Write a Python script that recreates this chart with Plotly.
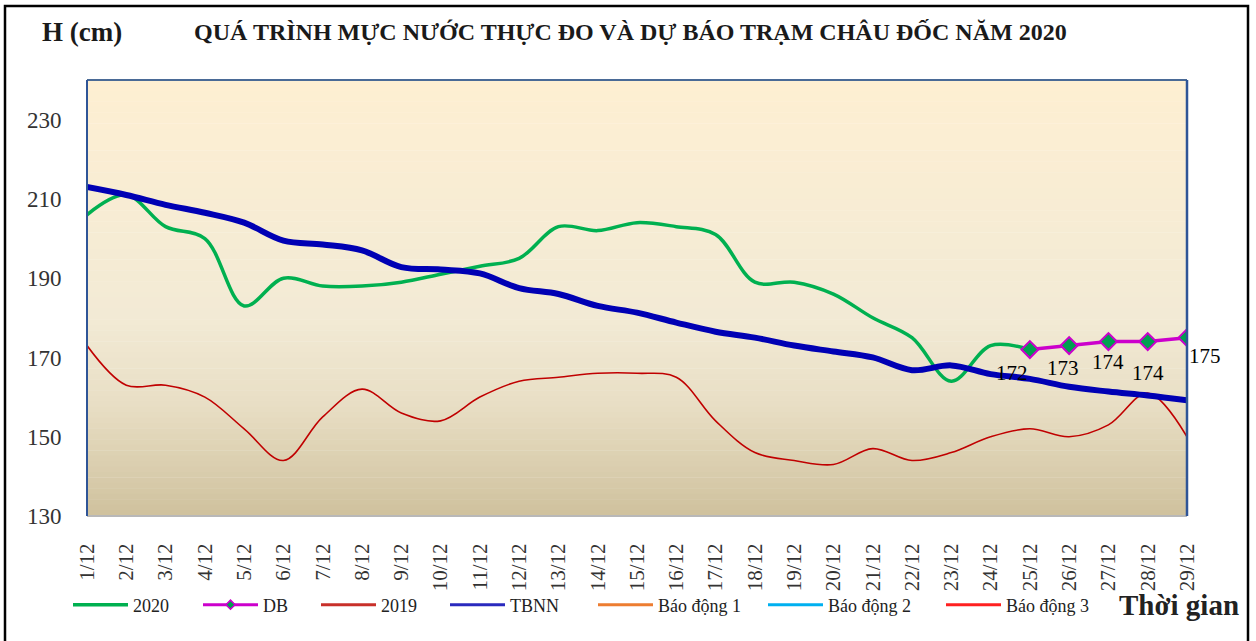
import plotly.graph_objects as go

# ---------------- data ----------------
days = [f"{d}/12" for d in range(1, 30)]

h2020 = [206, 211, 203, 200, 183, 190, 188, 188, 189, 191, 193, 195, 203, 202, 204,
         203, 201, 189, 189, 186, 180, 175, 164, 173, 172,
         None, None, None, None]
db = [None] * 24 + [172, 173, 174, 174, 175]
h2019 = [173, 163, 163, 160, 152, 144, 155, 162, 156, 154, 160, 164, 165, 166, 166,
         165, 154, 146, 144, 143, 147, 144, 146, 150, 152, 150, 153, 161, 150]
tbnn = [213, 211, 208.5, 206.5, 204, 199.5, 198.5, 197, 192.8, 192.2, 191.2, 187.5,
        186, 183, 181.3, 178.8, 176.5, 175, 173, 171.5, 170, 166.8, 168, 165.8,
        164.6, 162.6, 161.4, 160.4, 159.2]
bd1 = [350] * 29
bd2 = [400] * 29
bd3 = [450] * 29

y_ticks = [130, 150, 170, 190, 210, 230]

# ---------------- figure ----------------
W, H = 1256, 641
L, R, T, B = 87, 69, 80, 125
PW, PH = W - L - R, H - T - B

def px(xp):
    return (xp - L) / PW

def py(yp):
    return (H - B - yp) / PH

serif = "Liberation Serif"
fig = go.Figure()

line_shape = dict(shape="spline", smoothing=1)
empty = [None] * len(days)

# series (2019, TBNN, DB use a thinner proxy entry in the legend, as in the original)
fig.add_trace(go.Scatter(x=days, y=h2020, name="2020", mode="lines",
                         line=dict(color="#00B050", width=3.5, **line_shape),
                         legend="legend"))
fig.add_trace(go.Scatter(x=days, y=db, name="DB", mode="lines+markers",
                         line=dict(color="#CC00CC", width=3.5),
                         marker=dict(symbol="diamond", size=13, color="#00A050",
                                     line=dict(color="#CC00CC", width=2)),
                         legendgroup="db", showlegend=False))
fig.add_trace(go.Scatter(x=days, y=empty, name="DB", mode="lines+markers",
                         line=dict(color="#CC00CC", width=3),
                         marker=dict(symbol="diamond", size=7, color="#00A050",
                                     line=dict(color="#CC00CC", width=1.5)),
                         legendgroup="db", legend="legend2"))
fig.add_trace(go.Scatter(x=days, y=h2019, name="2019", mode="lines",
                         line=dict(color="#C00000", width=1.6, **line_shape),
                         legendgroup="y2019", showlegend=False))
fig.add_trace(go.Scatter(x=days, y=empty, name="2019", mode="lines",
                         line=dict(color="#C8302A", width=3),
                         legendgroup="y2019", legend="legend3"))
fig.add_trace(go.Scatter(x=days, y=tbnn, name="TBNN", mode="lines",
                         line=dict(color="#0000B4", width=6, **line_shape),
                         legendgroup="tbnn", showlegend=False))
fig.add_trace(go.Scatter(x=days, y=empty, name="TBNN", mode="lines",
                         line=dict(color="#2A2ABE", width=3),
                         legendgroup="tbnn", legend="legend4"))
fig.add_trace(go.Scatter(x=days, y=bd1, name="Báo động 1", mode="lines",
                         line=dict(color="#ED7D31", width=3), legend="legend5"))
fig.add_trace(go.Scatter(x=days, y=bd2, name="Báo động 2", mode="lines",
                         line=dict(color="#00B0F0", width=3), legend="legend6"))
fig.add_trace(go.Scatter(x=days, y=bd3, name="Báo động 3", mode="lines",
                         line=dict(color="#FF2020", width=3), legend="legend7"))

# DB value labels
label_offsets = [(-18, -23), (-6, -22), (0, -20), (0, -31), (18, -18)]
annotations = []
db_days = [d for d, v in zip(days, db) if v is not None]
db_vals = [v for v in db if v is not None]
for (d, v), (dx, dy) in zip(zip(db_days, db_vals), label_offsets):
    annotations.append(dict(x=d, y=v, xref="x", yref="y", text=f"{v:g}",
                            showarrow=False, xshift=dx, yshift=dy,
                            font=dict(family=serif, size=21, color="#000")))

# titles
annotations.append(dict(x=px(40), y=py(32), xref="paper", yref="paper", xanchor="left",
                        yanchor="middle", text="<b>H (cm)</b>", showarrow=False,
                        font=dict(family=serif, size=27, color="#1a1a1a")))
annotations.append(dict(x=px(630), y=py(32), xref="paper", yref="paper", xanchor="center",
                        yanchor="middle",
                        text="<b>QUÁ TRÌNH MỰC NƯỚC THỰC ĐO VÀ DỰ BÁO TRẠM CHÂU ĐỐC NĂM 2020</b>",
                        showarrow=False, font=dict(family=serif, size=24, color="#1a1a1a")))
annotations.append(dict(x=px(1241), y=py(605), xref="paper", yref="paper", xanchor="right",
                        yanchor="middle", text="<b>Thời gian</b>", showarrow=False,
                        font=dict(family=serif, size=29, color="#222")))

# gradient background bands
def lerp(c1, c2, t):
    return tuple(round(a + (b - a) * t) for a, b in zip(c1, c2))

stops = [(0.0, (254, 239, 210)), (0.55, (242, 234, 213)), (0.75, (232, 222, 196)),
         (1.0, (207, 193, 157))]
shapes = []
N = 80
for i in range(N):
    t = (i + 0.5) / N
    for (t0, c0), (t1, c1) in zip(stops[:-1], stops[1:]):
        if t0 <= t <= t1:
            c = lerp(c0, c1, (t - t0) / (t1 - t0))
            break
    shapes.append(dict(type="rect", xref="paper", yref="paper", x0=0, x1=1,
                       y0=1 - (i + 1) / N, y1=1 - i / N + 0.001, layer="below",
                       line=dict(width=0), fillcolor=f"rgb{c}"))

# plot frame
shapes += [
    dict(type="line", xref="paper", yref="paper", x0=0, x1=1, y0=0, y1=0,
         line=dict(color="#B8B8B8", width=2)),
    dict(type="line", xref="paper", yref="paper", x0=0, x1=1, y0=1, y1=1,
         line=dict(color="#4A6A96", width=2)),
    dict(type="line", xref="paper", yref="paper", x0=0, x1=0, y0=0, y1=1,
         line=dict(color="#2F5597", width=2)),
    dict(type="line", xref="paper", yref="paper", x0=1, x1=1, y0=0, y1=1,
         line=dict(color="#2F5597", width=2.5)),
    # outer border (bottom edge runs just off the page, as in the original)
    dict(type="rect", xref="paper", yref="paper", x0=px(5), x1=px(1248),
         y0=py(645), y1=py(6), line=dict(color="#000", width=2.5), layer="above"),
]

leg_common = dict(orientation="h", yanchor="middle", xanchor="left",
                  font=dict(family=serif, size=18, color="#222"),
                  bgcolor="rgba(0,0,0,0)", itemwidth=55, tracegroupgap=0,
                  itemclick=False, itemdoubleclick=False)
leg_x = [75, 205, 323, 452, 600, 770, 948]
legends = {}
for i, lx in enumerate(leg_x):
    key = "legend" if i == 0 else f"legend{i+1}"
    legends[key] = dict(x=px(lx - 7), y=py(605), **leg_common)

fig.update_layout(
    width=W, height=H,
    margin=dict(l=L, r=R, t=T, b=B, autoexpand=False),
    paper_bgcolor="white",
    plot_bgcolor="rgba(0,0,0,0)",
    showlegend=True,
    xaxis=dict(type="category", range=[0, 28], tickangle=-90, showgrid=False,
               ticks="outside", ticklen=18, tickcolor="rgba(0,0,0,0)",
               zeroline=False, showline=False,
               tickfont=dict(family=serif, size=21, color="#333")),
    yaxis=dict(range=[130, 240], tickvals=y_ticks, showgrid=False,
               ticks="outside", ticklen=20, tickcolor="rgba(0,0,0,0)",
               zeroline=False, showline=False,
               tickfont=dict(family=serif, size=23, color="#333")),
    annotations=annotations,
    shapes=shapes,
    **legends,
)

fig.write_html("out.html", config={"displayModeBar": False},
               post_script="document.body.style.margin='0px';")
